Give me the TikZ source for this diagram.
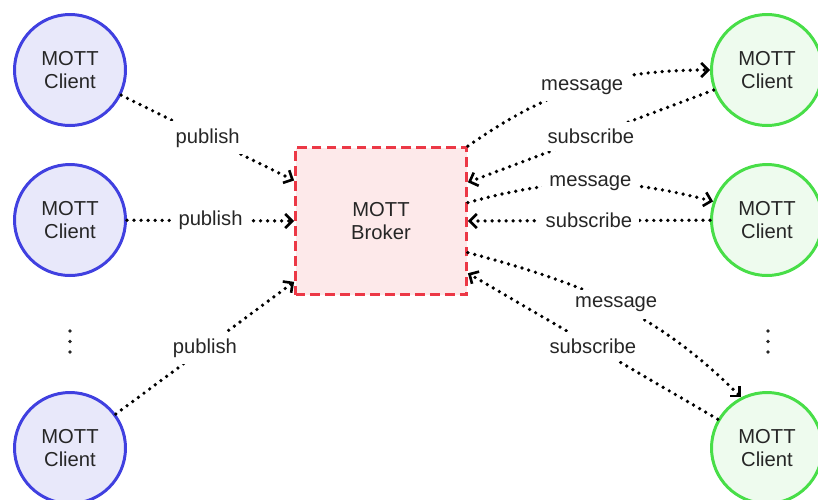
\documentclass[tikz,border=0pt]{standalone}
\usepackage{fontspec}
\setmainfont{Liberation Sans}
\usetikzlibrary{arrows.meta,positioning,shapes}
\usepackage{xcolor}
\definecolor{pubblue}{RGB}{64,64,224}
\definecolor{pubfill}{RGB}{232,232,250}
\definecolor{subgreen}{RGB}{72,222,72}
\definecolor{subfill}{RGB}{238,251,238}
\definecolor{brokerred}{RGB}{236,56,70}
\definecolor{brokerfill}{RGB}{253,233,234}

\begin{document}
\begin{tikzpicture}[
    every node/.style={
        font=\fontsize{11.5}{13.5}\selectfont,
        text=black!85,
        align=center
    },
    pubclient/.style={
        circle,
        draw=pubblue,
        fill=pubfill,
        line width=1.7pt,
        minimum size=2.22cm
    },
    subclient/.style={
        circle,
        draw=subgreen,
        fill=subfill,
        line width=1.7pt,
        minimum size=2.22cm
    },
    flow/.style={
        ->,
        >={Straight Barb[length=4pt,width=8pt,line width=1.5pt]},
        line width=2.1pt,
        line cap=round,
        dash pattern=on 0pt off 4pt
    },
    tag/.style={fill=white, inner sep=4pt}
]
    \useasboundingbox (0,0) rectangle (16.36,-9.98);

    \node (pub_client_a) [pubclient, shift={(1.4, -1.4)}]
    {
        MOTT\\Client
    };
    \node (pub_client_b) [pubclient, shift={(1.4, -4.4)}]
    {
        MOTT\\Client
    };
    \node (pub_client_n) [pubclient, shift={(1.4, -8.96)}]
    {
        MOTT\\Client
    };

    \node (broker) [rectangle, draw=brokerred, fill=brokerfill, line width=1.6pt,
        dash pattern=on 5.5pt off 3pt, minimum width=3.42cm, minimum height=2.94cm,
        shift={(7.62, -4.42)}]
    {
        MOTT\\Broker
    };

    \node (sub_client_a) [subclient, shift={(15.34, -1.4)}]
    {
        MOTT\\Client
    };
    \node (sub_client_b) [subclient, shift={(15.34, -4.4)}]
    {
        MOTT\\Client
    };
    \node (sub_client_n) [subclient, shift={(15.34, -8.96)}]
    {
        MOTT\\Client
    };

    % more clients
    \foreach \y in {-6.62,-6.83,-7.04} {
        \fill[black!85] (1.4,\y) circle (0.036);
        \fill[black!85] (15.36,\y) circle (0.036);
    }

    \draw[flow] (pub_client_a) to node[tag] {publish} (broker.155);
    \draw[flow] (pub_client_b) to node[tag] {publish} (broker.west);
    \draw[flow] (pub_client_n) to node[tag] {publish} (broker.215);

    \draw[flow] (broker.north east) to[out=35, in=180] node[tag] {message} (sub_client_a.west);
    \draw[flow] (sub_client_a) to node[tag] {subscribe} (broker.24);

    \draw[flow] (broker.12) to[bend left=15] node[tag] {message} (sub_client_b.161);
    \draw[flow] (sub_client_b) to node[tag] {subscribe} (broker.east);

    \draw[flow] (broker.-20) to[out=-15, in=135] node[tag] {message} (sub_client_n.117);
    \draw[flow] (sub_client_n) to node[tag] {subscribe} (broker.-31);
\end{tikzpicture}
\end{document}
